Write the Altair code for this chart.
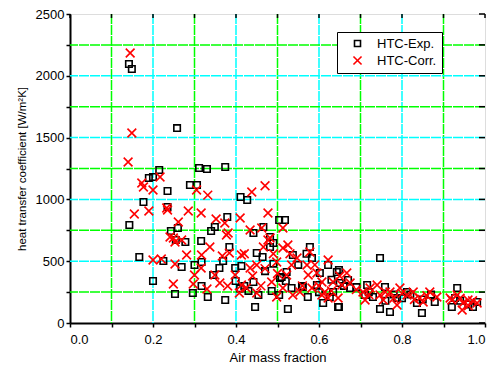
import altair as alt
import pandas as pd

exp_x = [0.142,0.149,0.258,0.19,0.2,0.215,0.311,0.33,0.374,0.289,0.306,
         0.143,0.167,0.177,0.2,0.225,0.235,0.235,0.243,0.255,0.26,0.253,0.269,0.278,0.296,0.3,0.316,0.317,0.317,0.332,0.34,0.349,0.345,0.36,0.369,0.379,0.374,0.384,0.398,0.399,0.411,0.413,0.427,
         0.442,0.466,0.482,0.482,0.45,0.464,0.442,0.446,0.454,0.486,0.506,0.504,0.525,0.534,0.537,0.522,0.504,0.518,0.559,0.573,0.578,0.583,0.595,0.602,0.61,0.622,0.648,0.648,0.67,0.675,0.634,
         0.747,0.716,0.711,0.747,0.771,0.759,0.788,0.812,0.836,0.848,0.879,0.92,0.933,0.981,0.971,0.928,
         0.49,0.643,0.65,0.561,0.51,0.626,0.646,
         0.41,0.42,0.43,0.47,0.49,0.52,0.55,0.57,0.6,0.63,0.66,0.69,0.72,0.73,0.76,0.78,0.8,0.82,0.85,0.87,0.94,0.96]
exp_y = [2095,2055,1577,1173,1181,1238,1254,1246,1262,1116,1116,
         793,534,979,340,502,1068,938,744,671,769,235,453,655,243,469,663,494,299,210,744,777,388,445,502,858,186,615,445,340,1019,461,995,
         728,777,696,615,566,534,332,129,227,259,364,227,113,283,550,413,833,833,299,210,615,526,307,405,162,469,429,129,348,283,251,
         526,307,227,113,89,291,202,251,162,81,170,129,283,170,129,202,
         647,413,324,291,372,210,129,
         280,300,260,420,480,340,470,560,250,350,300,290,250,210,180,230,200,230,190,230,180,150]

cor_x = [0.145,0.149,0.14,0.217,0.173,
         0.155,0.19,0.177,0.2,0.2,0.22,0.235,0.249,0.253,0.249,0.269,0.261,0.285,0.281,0.3,0.297,0.316,0.305,0.332,0.317,0.316,0.337,0.33,0.352,0.349,0.361,0.367,0.377,0.373,0.384,0.38,0.398,0.41,0.413,0.413,0.408,0.425,
         0.233,0.241,0.253,0.438,0.477,0.381,0.434,0.462,0.482,0.47,
         0.513,0.466,0.45,0.434,0.477,0.498,0.513,0.525,0.45,0.486,0.498,0.513,0.522,0.534,0.547,0.537,0.554,0.571,0.578,0.574,0.583,0.595,0.607,0.607,0.622,0.622,0.634,0.646,0.655,0.667,0.675,0.614,
         0.706,0.711,0.74,0.723,0.747,0.755,0.771,0.788,0.795,0.812,0.827,0.843,0.851,0.867,0.884,0.916,0.933,0.945,0.947,0.959,0.981,0.92,
         0.42,0.44,0.46,0.47,0.49,0.5,0.53,0.56,0.59,0.6,0.63,0.65,0.69,0.72,0.76,0.78,0.8,0.83,0.86,0.94,0.96,0.97]
cor_y = [2184,1537,1303,1181,1133,
         882,906,1100,1076,510,518,914,316,477,688,671,817,906,550,388,316,890,1076,1035,550,445,615,275,841,388,324,542,712,809,566,299,388,850,550,307,243,283,
         930,696,655,1060,890,728,752,769,688,1110,
         769,615,469,445,671,494,607,631,243,332,210,283,388,469,526,227,251,469,574,388,283,405,332,227,510,202,332,202,307,405,324,251,
         251,186,307,283,227,186,251,146,283,227,251,202,170,251,210,202,227,105,162,186,162,186,
         560,380,300,440,560,400,560,300,470,300,260,380,270,230,250,200,240,190,220,200,140,180]

series_names = ["HTC-Exp.", "HTC-Corr."]
x_ticks = [0.0,0.1,0.2,0.3,0.4,0.5,0.6,0.7,0.8,0.9,1.0]
y_ticks = [0,250,500,750,1000,1250,1500,1750,2000,2250,2500]
x_major_grid = [0.2,0.4,0.6,0.8]
x_minor_grid = [0.1,0.3,0.5,0.7,0.9]
y_major_grid = [500,1000,1500,2000]
y_minor_grid = [250,750,1250,1750,2250]

pts = pd.concat([
    pd.DataFrame({"x": exp_x, "y": exp_y, "s": series_names[0]}),
    pd.DataFrame({"x": cor_x, "y": cor_y, "s": series_names[1]}),
])

xs = alt.Scale(domain=[0, 1], nice=False, zero=False)
ys = alt.Scale(domain=[0, 2500], nice=False, zero=False)
FONT = "Liberation Sans"

x_axis = alt.Axis(values=x_ticks, title="Air mass fraction",
                  labelExpr="round(datum.value*10) % 2 == 0 ? format(datum.value, '.1f') : ''",
                  grid=False, tickSize=4, tickWidth=1.5, tickColor="black",
                  domainColor="black", domainWidth=2,
                  labelFont=FONT, labelFontSize=13, labelColor="black", labelPadding=6,
                  titleFont=FONT, titleFontSize=13, titleFontWeight="normal",
                  titleColor="black", titlePadding=5)
y_axis = alt.Axis(values=y_ticks, title="heat transfer coefficient [W/m²K]",
                  labelExpr="datum.value % 500 == 0 ? datum.value : ''",
                  grid=False, tickSize=4, tickWidth=1.5, tickColor="black",
                  domainColor="black", domainWidth=2,
                  labelFont=FONT, labelFontSize=13, labelColor="black", labelPadding=2,
                  titleFont=FONT, titleFontSize=11.5, titleFontWeight="normal",
                  titleColor="black", titlePadding=8)

GRID_DASH = [10, 1]

def vrule(vals, col):
    return alt.Chart(pd.DataFrame({"v": vals})).mark_rule(
        strokeWidth=1.5, strokeDash=GRID_DASH, color=col).encode(
        x=alt.X("v:Q", scale=xs, axis=x_axis))

def hrule(vals, col):
    return alt.Chart(pd.DataFrame({"v": vals})).mark_rule(
        strokeWidth=1.5, strokeDash=GRID_DASH, color=col).encode(
        y=alt.Y("v:Q", scale=ys, axis=y_axis))

top_ticks = alt.Chart(pd.DataFrame({"v": x_ticks})).mark_rule(color="black", strokeWidth=1.5).encode(
    x=alt.X("v:Q", scale=xs, axis=x_axis), y=alt.value(0), y2=alt.value(4))
right_ticks = alt.Chart(pd.DataFrame({"v": y_ticks})).mark_rule(color="black", strokeWidth=1.5).encode(
    y=alt.Y("v:Q", scale=ys, axis=y_axis), x=alt.value(409), x2=alt.value(415))

leg = alt.Legend(title=None, orient="none", legendX=267, legendY=18,
                 strokeColor="black", fillColor="white",
                 padding=5, labelFont=FONT, labelFontSize=13, labelColor="black",
                 symbolStrokeWidth=1.6, symbolSize=36, rowPadding=2,
                 symbolOffset=9, labelOffset=13)

points = alt.Chart(pts).mark_point(filled=False, strokeWidth=1.6, opacity=1, size=42).encode(
    x=alt.X("x:Q", scale=xs, axis=x_axis),
    y=alt.Y("y:Q", scale=ys, axis=y_axis),
    color=alt.Color("s:N", scale=alt.Scale(domain=series_names, range=["black", "red"]), legend=leg),
    shape=alt.Shape("s:N", scale=alt.Scale(domain=series_names,
                                           range=["square", "M-1.35,-1.35L1.35,1.35M1.35,-1.35L-1.35,1.35"]),
                    legend=leg),
)

chart = alt.layer(
    vrule(x_minor_grid, "#00FF00"), vrule(x_major_grid, "#00FFFF"),
    hrule(y_minor_grid, "#00FF00"), hrule(y_major_grid, "#00FFFF"),
    top_ticks, right_ticks, points,
).properties(
    width=415, height=309,
    autosize=alt.AutoSizeParams(type="none"),
    padding={"left": 70, "top": 14, "right": 14, "bottom": 46},
).configure_view(stroke="black", strokeWidth=2).configure_legend(
    strokeWidth=1.5
).configure(background="white")

chart.save("out.html", embed_options={"renderer": "svg", "actions": False})
